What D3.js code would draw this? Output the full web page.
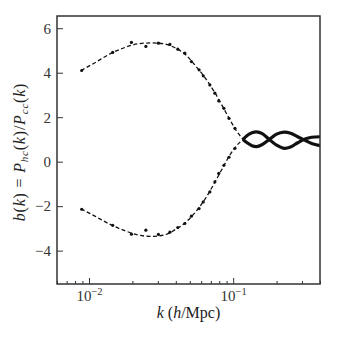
<!DOCTYPE html>
<html>
<head>
<meta charset="utf-8">
<script src="https://cdn.jsdelivr.net/npm/d3@7"></script>
<style>
  body { margin: 0; background: #fff; }
  svg { display: block; }
</style>
</head>
<body>
<div class="chart"></div>
<script>
const FONT = '"Liberation Serif", "DejaVu Serif", serif';

// model curves (dashed)
const kModel = [0.0088, 0.011, 0.014, 0.018, 0.022, 0.027, 0.033, 0.04, 0.047, 0.055, 0.065, 0.075, 0.085, 0.095, 0.105, 0.117];
const upperModel = [4.1, 4.45, 4.85, 5.15, 5.3, 5.34, 5.3, 5.1, 4.8, 4.3, 3.7, 3.08, 2.45, 1.88, 1.4, 1.0];
const lowerModel = [-2.12, -2.45, -2.82, -3.12, -3.3, -3.36, -3.3, -3.04, -2.72, -2.25, -1.6, -0.9, -0.25, 0.3, 0.7, 1.0];

// measured points (dots)
const kPts = [0.0089, 0.0146, 0.0197, 0.0248, 0.0303, 0.0364, 0.0413, 0.0462, 0.0513, 0.058, 0.062, 0.0689, 0.0746, 0.0794, 0.0862, 0.0935, 0.1028];
const upperPts = [4.1, 4.91, 5.36, 5.18, 5.33, 5.27, 5.06, 4.88, 4.5, 4.13, 3.86, 3.45, 3.08, 2.73, 2.4, 1.95, 1.5];
const lowerPts = [-2.14, -2.86, -3.26, -3.08, -3.27, -3.17, -2.96, -2.78, -2.45, -2.11, -1.81, -1.36, -0.91, -0.53, -0.16, 0.2, 0.6];

// dense region at high k (drawn as thick curves)
const kOsc = [0.117, 0.125, 0.135, 0.145, 0.158, 0.178, 0.2, 0.225, 0.25, 0.28, 0.315, 0.35, 0.4];
const oscA = [1.0, 0.85, 0.72, 0.68, 0.76, 1.0, 1.24, 1.33, 1.28, 1.12, 0.96, 0.82, 0.72];
const oscB = [1.0, 1.18, 1.3, 1.34, 1.27, 1.0, 0.74, 0.6, 0.66, 0.85, 1.02, 1.1, 1.12];

const yTicks = [-4, -2, 0, 2, 4, 6];
const xMajor = [0.01, 0.1];
const xMinor = [0.006, 0.007, 0.008, 0.009, 0.02, 0.03, 0.04, 0.05, 0.06, 0.07, 0.08, 0.09, 0.2, 0.3, 0.4];

const W = 337, H = 337;
const margin = { top: 16, right: 17, bottom: 53, left: 57 };
const width = W - margin.left - margin.right;
const height = H - margin.top - margin.bottom;

const x = d3.scaleLog().domain([0.006, 0.4]).range([0, width]);
const y = d3.scaleLinear().domain([-5.5, 6.55]).range([height, 0]);

const svg = d3.select('.chart').append('svg')
  .attr('width', W).attr('height', H)
  .attr('font-family', FONT)
  .append('g')
  .attr('transform', `translate(${margin.left},${margin.top})`);

// ticks pointing inward
const xAxisMinor = d3.axisBottom(x).tickValues(xMinor).tickSize(-3).tickFormat('');
const xAxisMajor = d3.axisBottom(x).tickValues(xMajor).tickSize(-6).tickPadding(4).tickFormat('');
const yAxis = d3.axisLeft(y).tickValues(yTicks).tickSize(-6).tickPadding(6)
  .tickFormat(d => d < 0 ? '\u2212' + Math.abs(d) : d);

svg.append('g').attr('transform', `translate(0,${height})`).call(xAxisMinor);
const xm = svg.append('g').attr('transform', `translate(0,${height})`).call(xAxisMajor);
const ya = svg.append('g').call(yAxis);

svg.selectAll('g').attr('font-family', FONT);
svg.selectAll('.domain').remove();
svg.selectAll('.tick line').attr('stroke', '#333').attr('stroke-width', 1);
ya.selectAll('text').style('font-size', '15px').style('fill', '#333');

// 10^{-2}, 10^{-1} labels
xm.selectAll('.tick').each(function(d) {
  const t = d3.select(this).append('text')
    .attr('y', 17).attr('text-anchor', 'middle')
    .style('font-size', '15px').style('fill', '#333');
  t.append('tspan').text('10');
  t.append('tspan').attr('dy', -6).style('font-size', '10.5px').text('\u2212' + Math.round(-Math.log10(d)));
});

// lines
const line = d3.line().x(d => x(d[0])).y(d => y(d[1])).curve(d3.curveMonotoneX);

[upperModel, lowerModel].forEach(vals => {
  svg.append('path')
    .datum(kModel.map((k, i) => [k, vals[i]]))
    .attr('d', line)
    .attr('fill', 'none')
    .attr('stroke', '#111')
    .attr('stroke-width', 1.3)
    .attr('stroke-dasharray', '4,2.5');
});

[oscA, oscB].forEach(vals => {
  svg.append('path')
    .datum(kOsc.map((k, i) => [k, vals[i]]))
    .attr('d', d3.line().x(d => x(d[0])).y(d => y(d[1])).curve(d3.curveCatmullRom))
    .attr('fill', 'none')
    .attr('stroke', '#111')
    .attr('stroke-width', 3.2);
});

[upperPts, lowerPts].forEach(vals => {
  svg.selectAll(null)
    .data(kPts.map((k, i) => [k, vals[i]]))
    .enter()
    .append('circle')
    .attr('cx', d => x(d[0]))
    .attr('cy', d => y(d[1]))
    .attr('r', 1.6)
    .attr('fill', '#111');
});

// frame
svg.append('rect')
  .attr('width', width).attr('height', height)
  .attr('fill', 'none').attr('stroke', '#333').attr('stroke-width', 1.5);

// axis labels
const xl = svg.append('text')
  .attr('x', width / 2).attr('y', height + 34)
  .attr('text-anchor', 'middle').style('font-size', '16px').style('fill', '#222');
xl.append('tspan').style('font-style', 'italic').text('k');
xl.append('tspan').text(' (');
xl.append('tspan').style('font-style', 'italic').text('h');
xl.append('tspan').text('/Mpc)');

const yl = svg.append('text')
  .attr('transform', `translate(${-32},${height / 2 + 2}) rotate(-90)`)
  .attr('text-anchor', 'middle').style('font-size', '16px').style('fill', '#222')
  .style('letter-spacing', '0.8px');
const parts = [
  ['b', 'i'], ['(', 'n'], ['k', 'i'], [') = ', 'n'],
  ['P', 'i'], ['hc', 's'], ['(', 'n'], ['k', 'i'], [')/', 'n'],
  ['P', 'i'], ['cc', 's'], ['(', 'n'], ['k', 'i'], [')', 'n']
];
let sub = false;
parts.forEach(([txt, kind]) => {
  const ts = yl.append('tspan').text(txt);
  if (kind === 'i' || kind === 's') ts.style('font-style', 'italic');
  if (kind === 's') { ts.attr('dy', 3).style('font-size', '11px'); sub = true; }
  else if (sub) { ts.attr('dy', -3); sub = false; }
});
yl.style('white-space', 'pre');
</script>
</body>
</html>
